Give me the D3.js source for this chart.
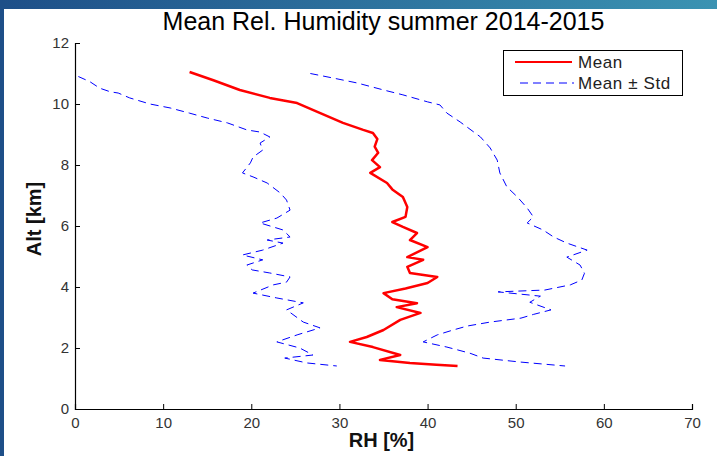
<!DOCTYPE html>
<html>
<head>
<meta charset="utf-8">
<script src="https://cdn.jsdelivr.net/npm/d3@7"></script>
<style>
  body { margin: 0; background: #fff; }
  svg { display: block; }
  text { font-family: "Liberation Sans", Arial, sans-serif; }
</style>
</head>
<body>
<svg id="chart" width="717" height="456"></svg>
<script>
// Mean relative humidity profile (RH %) against altitude (km)
const meanAlt = [11.05, 10.78, 10.46, 10.2, 10.03, 9.74, 9.38, 9.15, 9.05, 8.85, 8.6, 8.4, 8.16, 7.93, 7.74, 7.41, 7.2, 6.95, 6.62, 6.3, 6.13, 5.97, 5.77, 5.54, 5.31, 4.98, 4.89, 4.66, 4.46, 4.33, 4.13, 3.95, 3.8, 3.6, 3.47, 3.34, 3.15, 2.92, 2.59, 2.36, 2.2, 2.03, 1.77, 1.61, 1.51, 1.45, 1.41];
const meanRH  = [13.0, 15.7, 18.7, 22.1, 25.2, 27.5, 30.4, 32.7, 33.8, 34.3, 34.0, 34.4, 33.7, 34.6, 33.5, 35.4, 36.0, 37.2, 37.7, 37.5, 36.0, 37.2, 38.8, 38.0, 40.0, 37.7, 39.5, 37.7, 38.0, 41.1, 40.0, 37.5, 35.0, 36.0, 38.8, 36.5, 39.2, 36.9, 35.0, 33.1, 31.2, 33.8, 36.9, 34.6, 38.0, 41.0, 43.4];

// Mean - Std
const lowAlt = [11.05, 10.95, 10.73, 10.52, 10.4, 10.36, 10.2, 10.0, 9.87, 9.7, 9.54, 9.38, 9.15, 9.08, 8.92, 8.72, 8.49, 8.26, 8.07, 7.74, 7.61, 7.41, 7.08, 6.85, 6.52, 6.26, 6.1, 5.87, 5.64, 5.54, 5.44, 5.21, 5.05, 4.89, 4.72, 4.56, 4.46, 4.33, 4.16, 4.07, 3.8, 3.64, 3.48, 3.25, 2.85, 2.66, 2.43, 2.2, 2.0, 1.77, 1.67, 1.51, 1.41];
const lowRH  = [-1.0, 0.0, 1.7, 2.8, 4.0, 4.9, 6.2, 8.5, 10.8, 13.0, 15.0, 17.3, 19.5, 21.0, 22.1, 21.0, 21.3, 20.2, 19.9, 19.0, 20.2, 21.8, 23.3, 24.0, 24.4, 22.9, 21.0, 23.6, 24.4, 21.8, 23.6, 21.3, 19.0, 21.3, 19.5, 20.1, 22.1, 24.4, 24.0, 22.5, 20.2, 22.9, 25.9, 24.0, 25.9, 27.8, 25.2, 22.9, 25.5, 27.0, 23.8, 26.3, 29.7];

// Mean + Std
const upAlt = [11.0, 10.85, 10.69, 10.46, 10.3, 10.07, 9.97, 9.7, 9.41, 8.92, 8.56, 8.16, 7.74, 7.28, 6.95, 6.59, 6.3, 6.1, 5.87, 5.64, 5.44, 5.21, 4.98, 4.72, 4.45, 4.23, 4.07, 3.9, 3.84, 3.7, 3.5, 3.25, 3.1, 2.98, 2.85, 2.72, 2.59, 2.43, 2.2, 2.03, 1.83, 1.67, 1.54, 1.41];
const upRH  = [26.7, 29.3, 32.0, 35.0, 37.2, 40.0, 41.4, 42.2, 43.7, 46.0, 47.1, 47.9, 48.2, 49.0, 50.2, 51.3, 52.0, 51.3, 53.1, 54.3, 55.8, 58.1, 55.8, 57.3, 57.8, 57.5, 56.2, 53.3, 48.0, 52.8, 51.6, 54.0, 52.0, 50.6, 47.1, 44.5, 42.9, 41.1, 39.5, 42.2, 44.8, 46.3, 50.5, 55.6];

const xTicks = [0, 10, 20, 30, 40, 50, 60, 70];
const yTicks = [0, 2, 4, 6, 8, 10, 12];
const legendLabels = ["Mean", "Mean \u00b1 Std"];

const svg = d3.select("#chart");
const W = 717, H = 456;

// slide frame: gradient band on top, solid band on the left
const defs = svg.append("defs");
const grad = defs.append("linearGradient").attr("id", "band").attr("x1", "0").attr("x2", "1");
grad.append("stop").attr("offset", "0").attr("stop-color", "#1e4f88");
grad.append("stop").attr("offset", "1").attr("stop-color", "#3b93b2");
svg.append("rect").attr("x", 0).attr("y", 0).attr("width", W).attr("height", 9).attr("fill", "url(#band)");
svg.append("rect").attr("x", 0).attr("y", 0).attr("width", 4).attr("height", H).attr("fill", "#1e4f88");

const mLeft = 75, mRight = 692, mTop = 43, mBottom = 409;
const x = d3.scaleLinear().domain([0, 70]).range([mLeft, mRight]);
const y = d3.scaleLinear().domain([0, 12]).range([mBottom, mTop]);

defs.append("clipPath").attr("id", "plotClip")
  .append("rect").attr("x", mLeft).attr("y", mTop).attr("width", mRight - mLeft).attr("height", mBottom - mTop);

const line = d3.line().x(d => x(d[1])).y(d => y(d[0]));
const pts = (a, r) => a.map((v, i) => [v, r[i]]);
const dash = "8,5";

const plot = svg.append("g").attr("clip-path", "url(#plotClip)");
plot.append("path").datum(pts(lowAlt, lowRH)).attr("d", line)
  .attr("fill", "none").attr("stroke", "#0000ff").attr("stroke-width", 1).attr("stroke-dasharray", dash);
plot.append("path").datum(pts(upAlt, upRH)).attr("d", line)
  .attr("fill", "none").attr("stroke", "#0000ff").attr("stroke-width", 1).attr("stroke-dasharray", dash);
plot.append("path").datum(pts(meanAlt, meanRH)).attr("d", line)
  .attr("fill", "none").attr("stroke", "#ff0000").attr("stroke-width", 2.5).attr("stroke-linejoin", "round");

// axes with inward ticks
const xAxis = svg.append("g").attr("transform", `translate(0,${mBottom})`)
  .call(d3.axisBottom(x).tickValues(xTicks).tickSize(-5).tickPadding(8).tickFormat(d3.format("d")));
const yAxis = svg.append("g").attr("transform", `translate(${mLeft},0)`)
  .call(d3.axisLeft(y).tickValues(yTicks).tickSize(-5).tickPadding(6).tickFormat(d3.format("d")));
[xAxis, yAxis].forEach(g => {
  g.select(".domain").attr("stroke", "#000").attr("stroke-width", 1.2);
  g.selectAll(".tick line").attr("stroke", "#000");
  g.selectAll(".tick text").attr("fill", "#333").style("font-size", "15px")
    .style("font-family", "'Liberation Sans', Arial, sans-serif");
});

// title and axis labels
svg.append("text").attr("x", (mLeft + mRight) / 2).attr("y", 30).attr("text-anchor", "middle")
  .style("font-size", "25px").attr("fill", "#000").text("Mean Rel. Humidity summer 2014-2015");
svg.append("text").attr("x", (mLeft + mRight) / 2 - 2).attr("y", 447).attr("text-anchor", "middle")
  .style("font-size", "20px").style("font-weight", "bold").attr("fill", "#111").text("RH [%]");
svg.append("text").attr("transform", `translate(41,${(mTop + mBottom) / 2 - 7}) rotate(-90)`).attr("text-anchor", "middle")
  .style("font-size", "20px").style("font-weight", "bold").attr("fill", "#111").text("Alt [km]");

// legend
const lg = svg.append("g");
lg.append("rect").attr("x", 503.5).attr("y", 50.5).attr("width", 179).attr("height", 45)
  .attr("fill", "#fff").attr("stroke", "#000").attr("stroke-width", 1);
lg.append("line").attr("x1", 515).attr("x2", 572).attr("y1", 62).attr("y2", 62)
  .attr("stroke", "#ff0000").attr("stroke-width", 2);
lg.append("line").attr("x1", 520).attr("x2", 574).attr("y1", 83).attr("y2", 83)
  .attr("stroke", "#0000ff").attr("stroke-width", 1).attr("stroke-dasharray", dash);
lg.selectAll("text.lab").data(legendLabels).join("text").attr("class", "lab")
  .attr("x", 578).attr("y", (d, i) => 68 + i * 21)
  .style("font-size", "17px").style("letter-spacing", "0.6px").attr("fill", "#222").text(d => d);
</script>
</body>
</html>
